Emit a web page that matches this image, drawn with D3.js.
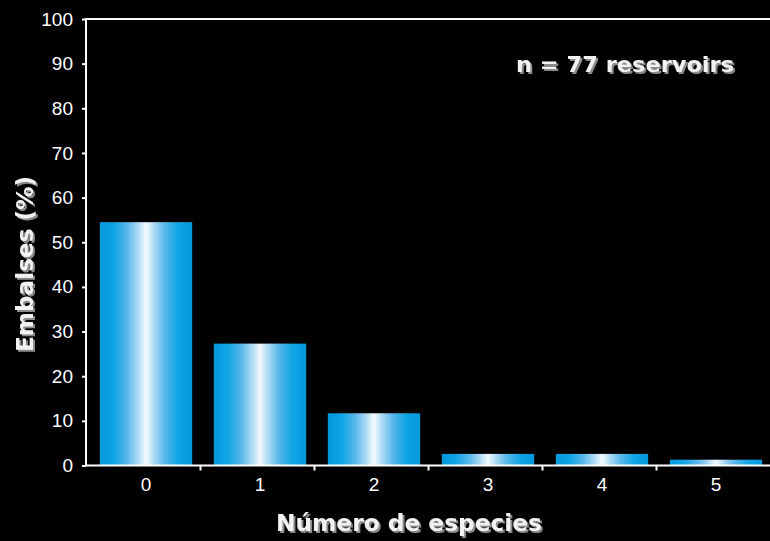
<!DOCTYPE html>
<html>
<head>
<meta charset="utf-8">
<script src="https://cdn.jsdelivr.net/npm/d3@7"></script>
<style>
  html, body { margin: 0; padding: 0; background: #000; }
  svg { display: block; }
</style>
</head>
<body>
<svg id="chart" width="770" height="541"></svg>
<script>
// Species count per reservoir and share of reservoirs (%)
const categories = ["0", "1", "2", "3", "4", "5"];
const values = [54.5, 27.3, 11.7, 2.6, 2.6, 1.3];
const yTicks = [0, 10, 20, 30, 40, 50, 60, 70, 80, 90, 100];
const xTitle = "Número de especies";
const yTitle = "Embalses (%)";
const note = "n = 77 reservoirs";

const W = 770, H = 541;
const m = { left: 86, right: 0, top: 19, bottom: 75 };
const svg = d3.select("#chart");

svg.append("rect").attr("width", W).attr("height", H).attr("fill", "#000");

const defs = svg.append("defs");
const grad = defs.append("linearGradient")
  .attr("id", "barGrad").attr("x1", "0%").attr("x2", "100%").attr("y1", "0%").attr("y2", "0%");
[
  [0, "#0098dc"], [0.15, "#10a4e4"], [0.3, "#5ab8ea"], [0.42, "#b2dcf5"],
  [0.5, "#f4faff"], [0.58, "#b2dcf5"], [0.7, "#5ab8ea"], [0.85, "#10a4e4"], [1, "#0098dc"]
].forEach(([o, c]) => grad.append("stop").attr("offset", o).attr("stop-color", c));

const shadow = defs.append("filter").attr("id", "shadow")
  .attr("x", "-10%").attr("y", "-30%").attr("width", "120%").attr("height", "160%");
shadow.append("feDropShadow").attr("dx", 2).attr("dy", 2)
  .attr("stdDeviation", 0.7).attr("flood-color", "#8a8a8a").attr("flood-opacity", 1);

const x = d3.scaleBand().domain(categories)
  .range([m.left, W - m.right]).paddingInner(0.19).paddingOuter(0.095);
const y = d3.scaleLinear().domain([0, 100]).range([H - m.bottom - 0.5, m.top]);

// bars
svg.append("g").selectAll("rect").data(values).join("rect")
  .attr("x", (d, i) => x(categories[i]) + 3)
  .attr("width", x.bandwidth())
  .attr("y", d => y(d))
  .attr("height", d => y(0) - y(d))
  .attr("fill", "url(#barGrad)");

// y axis
const yAxis = svg.append("g")
  .attr("transform", `translate(${m.left},0)`)
  .call(d3.axisLeft(y).tickValues(yTicks).tickSize(4).tickPadding(9));
yAxis.select(".domain").remove();
yAxis.selectAll("line").attr("stroke", "#fff").attr("stroke-width", 2);
yAxis.selectAll("text").attr("fill", "#fff")
  .style("font-family", "Liberation Sans, Arial, sans-serif").style("font-size", "19px");

// frame: left and top edges
svg.append("line").attr("x1", m.left).attr("x2", m.left)
  .attr("y1", y(100)).attr("y2", y(0)).attr("stroke", "#fff").attr("stroke-width", 2);
svg.append("line").attr("x1", m.left - 1).attr("x2", W)
  .attr("y1", y(100)).attr("y2", y(100)).attr("stroke", "#fff").attr("stroke-width", 2);

// x axis: boundary ticks
const xb = d3.scaleLinear().domain([0, categories.length]).range(x.range());
const xAxisTicks = svg.append("g")
  .attr("transform", `translate(0,${y(0)})`)
  .call(d3.axisBottom(xb).tickValues(d3.range(1, categories.length)).tickSize(5).tickFormat(""));
xAxisTicks.select(".domain").remove();
xAxisTicks.selectAll("line").attr("stroke", "#fff").attr("stroke-width", 2);
svg.append("line").attr("x1", m.left - 1).attr("x2", W)
  .attr("y1", y(0)).attr("y2", y(0)).attr("stroke", "#fff").attr("stroke-width", 2);

// x category labels
const xAxis = svg.append("g")
  .attr("transform", `translate(3,${y(0)})`)
  .call(d3.axisBottom(x).tickSize(0).tickPadding(12));
xAxis.select(".domain").remove();
xAxis.selectAll("text").attr("fill", "#fff")
  .style("font-family", "Liberation Sans, Arial, sans-serif").style("font-size", "19px");

// bold titles with a grey drop shadow
function shadowText(txt, px, py, size, rotate, len) {
  svg.append("g").attr("filter", "url(#shadow)")
    .append("text")
    .attr("transform", `translate(${px},${py}) rotate(${rotate})`)
    .attr("text-anchor", "middle")
    .attr("textLength", len).attr("lengthAdjust", "spacingAndGlyphs")
    .attr("fill", "#f2f2f2")
    .style("font-family", "DejaVu Sans, Verdana, sans-serif")
    .style("font-weight", "bold").style("font-size", size + "px")
    .text(txt);
}
shadowText(xTitle, 409, 531, 23, 0, 266);
shadowText(yTitle, 33, 264, 23, -90, 176);
shadowText(note, 625, 72, 22, 0, 218);
</script>
</body>
</html>
